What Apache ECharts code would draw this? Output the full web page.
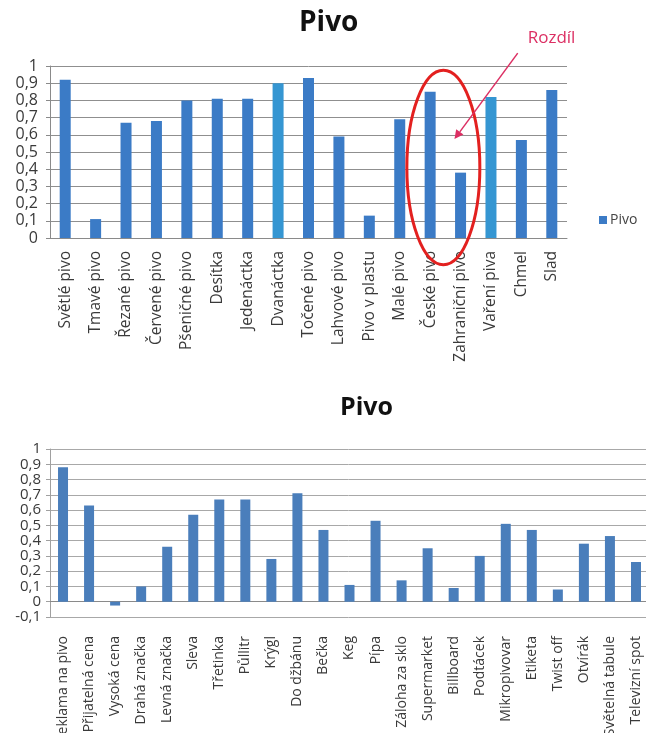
<!DOCTYPE html>
<html>
<head>
<meta charset="utf-8">
<script src="https://cdn.jsdelivr.net/npm/echarts@6/dist/echarts.min.js"></script>
<style>
  html, body { margin: 0; padding: 0; background: #fff; }
  #chart { width: 646px; height: 733px; }
</style>
</head>
<body>
<div id="chart"></div>
<script>
// Upper chart: beer terms
const topCategories = ['Světlé pivo', 'Tmavé pivo', 'Řezané pivo', 'Červené pivo', 'Pšeničné pivo',
  'Desítka', 'Jedenáctka', 'Dvanáctka', 'Točené pivo', 'Lahvové pivo', 'Pivo v plastu',
  'Malé pivo', 'České pivo', 'Zahraniční pivo', 'Vaření piva', 'Chmel', 'Slad'];
const topValues = [0.92, 0.11, 0.67, 0.68, 0.80, 0.81, 0.81, 0.90, 0.93, 0.59, 0.13,
  0.69, 0.85, 0.38, 0.82, 0.57, 0.86];
const topHighlighted = ['Dvanáctka', 'Vaření piva'];

// Lower chart: marketing / packaging terms
const bottomCategories = ['Reklama na pivo', 'Přijatelná cena', 'Vysoká cena', 'Drahá značka',
  'Levná značka', 'Sleva', 'Třetinka', 'Půllitr', 'Krýgl', 'Do džbánu', 'Bečka', 'Keg', 'Pípa',
  'Záloha za sklo', 'Supermarket', 'Billboard', 'Podtácek', 'Mikropivovar', 'Etiketa',
  'Twist off', 'Otvírák', 'Světelná tabule', 'Televizní spot'];
const bottomValues = [0.88, 0.63, -0.025, 0.10, 0.36, 0.57, 0.67, 0.67, 0.28, 0.71, 0.47, 0.11,
  0.53, 0.14, 0.35, 0.09, 0.30, 0.51, 0.47, 0.08, 0.38, 0.43, 0.26];

const seriesName = 'Pivo';
const noteText = 'Rozdíl';

const FONT = '"Open Sans", "DejaVu Sans", sans-serif';
const TOP_BLUE = '#3b7bc6';
const LIGHT_BLUE = '#3596d2';
const BOTTOM_BLUE = '#4a7ebb';

const commaFmt = v => String(+(+v).toFixed(1)).replace('.', ',');

const chart = echarts.init(document.getElementById('chart'), null, { renderer: 'canvas' });

const topData = topValues.map((v, i) =>
  topHighlighted.includes(topCategories[i]) ? { value: v, itemStyle: { color: LIGHT_BLUE } } : v);

chart.setOption({
  animation: false,
  backgroundColor: '#fff',
  textStyle: { fontFamily: FONT },
  title: [
    { text: seriesName, left: 294, top: 4,
      textStyle: { fontFamily: FONT, fontWeight: 'bold', fontSize: 28, color: '#111' } },
    { text: seriesName, left: 335, top: 390,
      textStyle: { fontFamily: FONT, fontWeight: 'bold', fontSize: 25, color: '#111' } }
  ],
  legend: {
    data: [{ name: seriesName, icon: 'rect' }],
    left: 594, top: 208,
    itemWidth: 8, itemHeight: 8, itemGap: 4,
    textStyle: { fontFamily: FONT, fontSize: 14, color: '#444', padding: [0, 0, 0, -2] }
  },
  grid: [
    { left: 50, top: 66, width: 517, height: 172, containLabel: false, outerBoundsMode: 'none' },
    { left: 50, top: 449, width: 599, height: 168, containLabel: false, outerBoundsMode: 'none' }
  ],
  xAxis: [
    {
      type: 'category', gridIndex: 0, data: topCategories,
      axisLine: { lineStyle: { color: '#8a8a8a' } },
      axisTick: { length: 6, lineStyle: { color: '#8a8a8a' } },
      axisLabel: { rotate: 90, margin: 13, fontFamily: FONT, fontSize: 15.5, color: '#3a3a3a', interval: 0 }
    },
    {
      type: 'category', gridIndex: 1, data: bottomCategories,
      axisLine: { onZero: true, lineStyle: { color: '#8a8a8a' } },
      axisTick: { length: 5, lineStyle: { color: '#8a8a8a' } },
      axisLabel: { rotate: 90, margin: 19, fontFamily: FONT, fontSize: 14, color: '#3a3a3a', interval: 0 }
    }
  ],
  yAxis: [
    {
      type: 'value', gridIndex: 0, min: 0, max: 1, interval: 0.1,
      axisLine: { show: true, lineStyle: { color: '#8a8a8a' } },
      axisTick: { show: true, length: 4, lineStyle: { color: '#8a8a8a' } },
      splitLine: { lineStyle: { color: '#8f8f8f' } },
      axisLabel: { formatter: commaFmt, margin: 12, fontFamily: FONT, fontSize: 16, color: '#3a3a3a',
        showMinLabel: true, showMaxLabel: true }
    },
    {
      type: 'value', gridIndex: 1, min: -0.1, max: 1, interval: 0.1,
      axisLine: { show: true, lineStyle: { color: '#a0a0a0' } },
      axisTick: { show: true, length: 4, lineStyle: { color: '#a0a0a0' } },
      splitLine: { lineStyle: { color: '#a8a8a8' } },
      axisLabel: { formatter: commaFmt, margin: 9, fontFamily: FONT, fontSize: 15, color: '#3a3a3a',
        showMinLabel: true, showMaxLabel: true }
    }
  ],
  series: [
    { name: seriesName, type: 'bar', xAxisIndex: 0, yAxisIndex: 0, data: topData,
      barWidth: 11, itemStyle: { color: TOP_BLUE } },
    { name: seriesName, type: 'bar', xAxisIndex: 1, yAxisIndex: 1, data: bottomValues,
      barWidth: 10, itemStyle: { color: BOTTOM_BLUE } }
  ]
});

// Red ring around "České pivo" / "Zahraniční pivo" and the arrow with its note
const px = (cat, val) => chart.convertToPixel({ xAxisIndex: 0, yAxisIndex: 0 }, [cat, val]);
const a = px('České pivo', 0.41);
const b = px('Zahraniční pivo', 0.41);
const step = b[0] - a[0];
const cx = (a[0] + b[0]) / 2 - 2;
const cy = a[1];
const unit = px('České pivo', 0)[1] - px('České pivo', 1)[1];

const tipBase = px('Zahraniční pivo', 0.575);
const tailBase = px('Chmel', 1.075);
const tip = [tipBase[0] - step * 0.2, tipBase[1]];
const tail = [tailBase[0] - step * 0.12, tailBase[1]];
const ang = Math.atan2(tip[1] - tail[1], tip[0] - tail[0]);
const headLen = 9, headHalf = 4.5;
const back = [tip[0] - headLen * Math.cos(ang), tip[1] - headLen * Math.sin(ang)];
const nrm = [-Math.sin(ang), Math.cos(ang)];
const NOTE_RED = '#dc2f63';

chart.setOption({
  graphic: [
    { type: 'ellipse', shape: { cx: cx, cy: cy, rx: step * 1.2, ry: unit * 0.565 },
      style: { fill: 'none', stroke: '#e3201f', lineWidth: 3 }, z: 100 },
    { type: 'line', shape: { x1: tail[0], y1: tail[1], x2: back[0], y2: back[1] },
      style: { stroke: NOTE_RED, lineWidth: 1.5 }, z: 100 },
    { type: 'polygon', shape: { points: [tip,
        [back[0] + nrm[0] * headHalf, back[1] + nrm[1] * headHalf],
        [back[0] - nrm[0] * headHalf, back[1] - nrm[1] * headHalf]] },
      style: { fill: NOTE_RED }, z: 100 },
    { type: 'text', left: tail[0] + 10, top: tail[1] - 23,
      style: { text: noteText, fill: NOTE_RED, font: '17px ' + FONT }, z: 100 }
  ]
});
</script>
</body>
</html>
